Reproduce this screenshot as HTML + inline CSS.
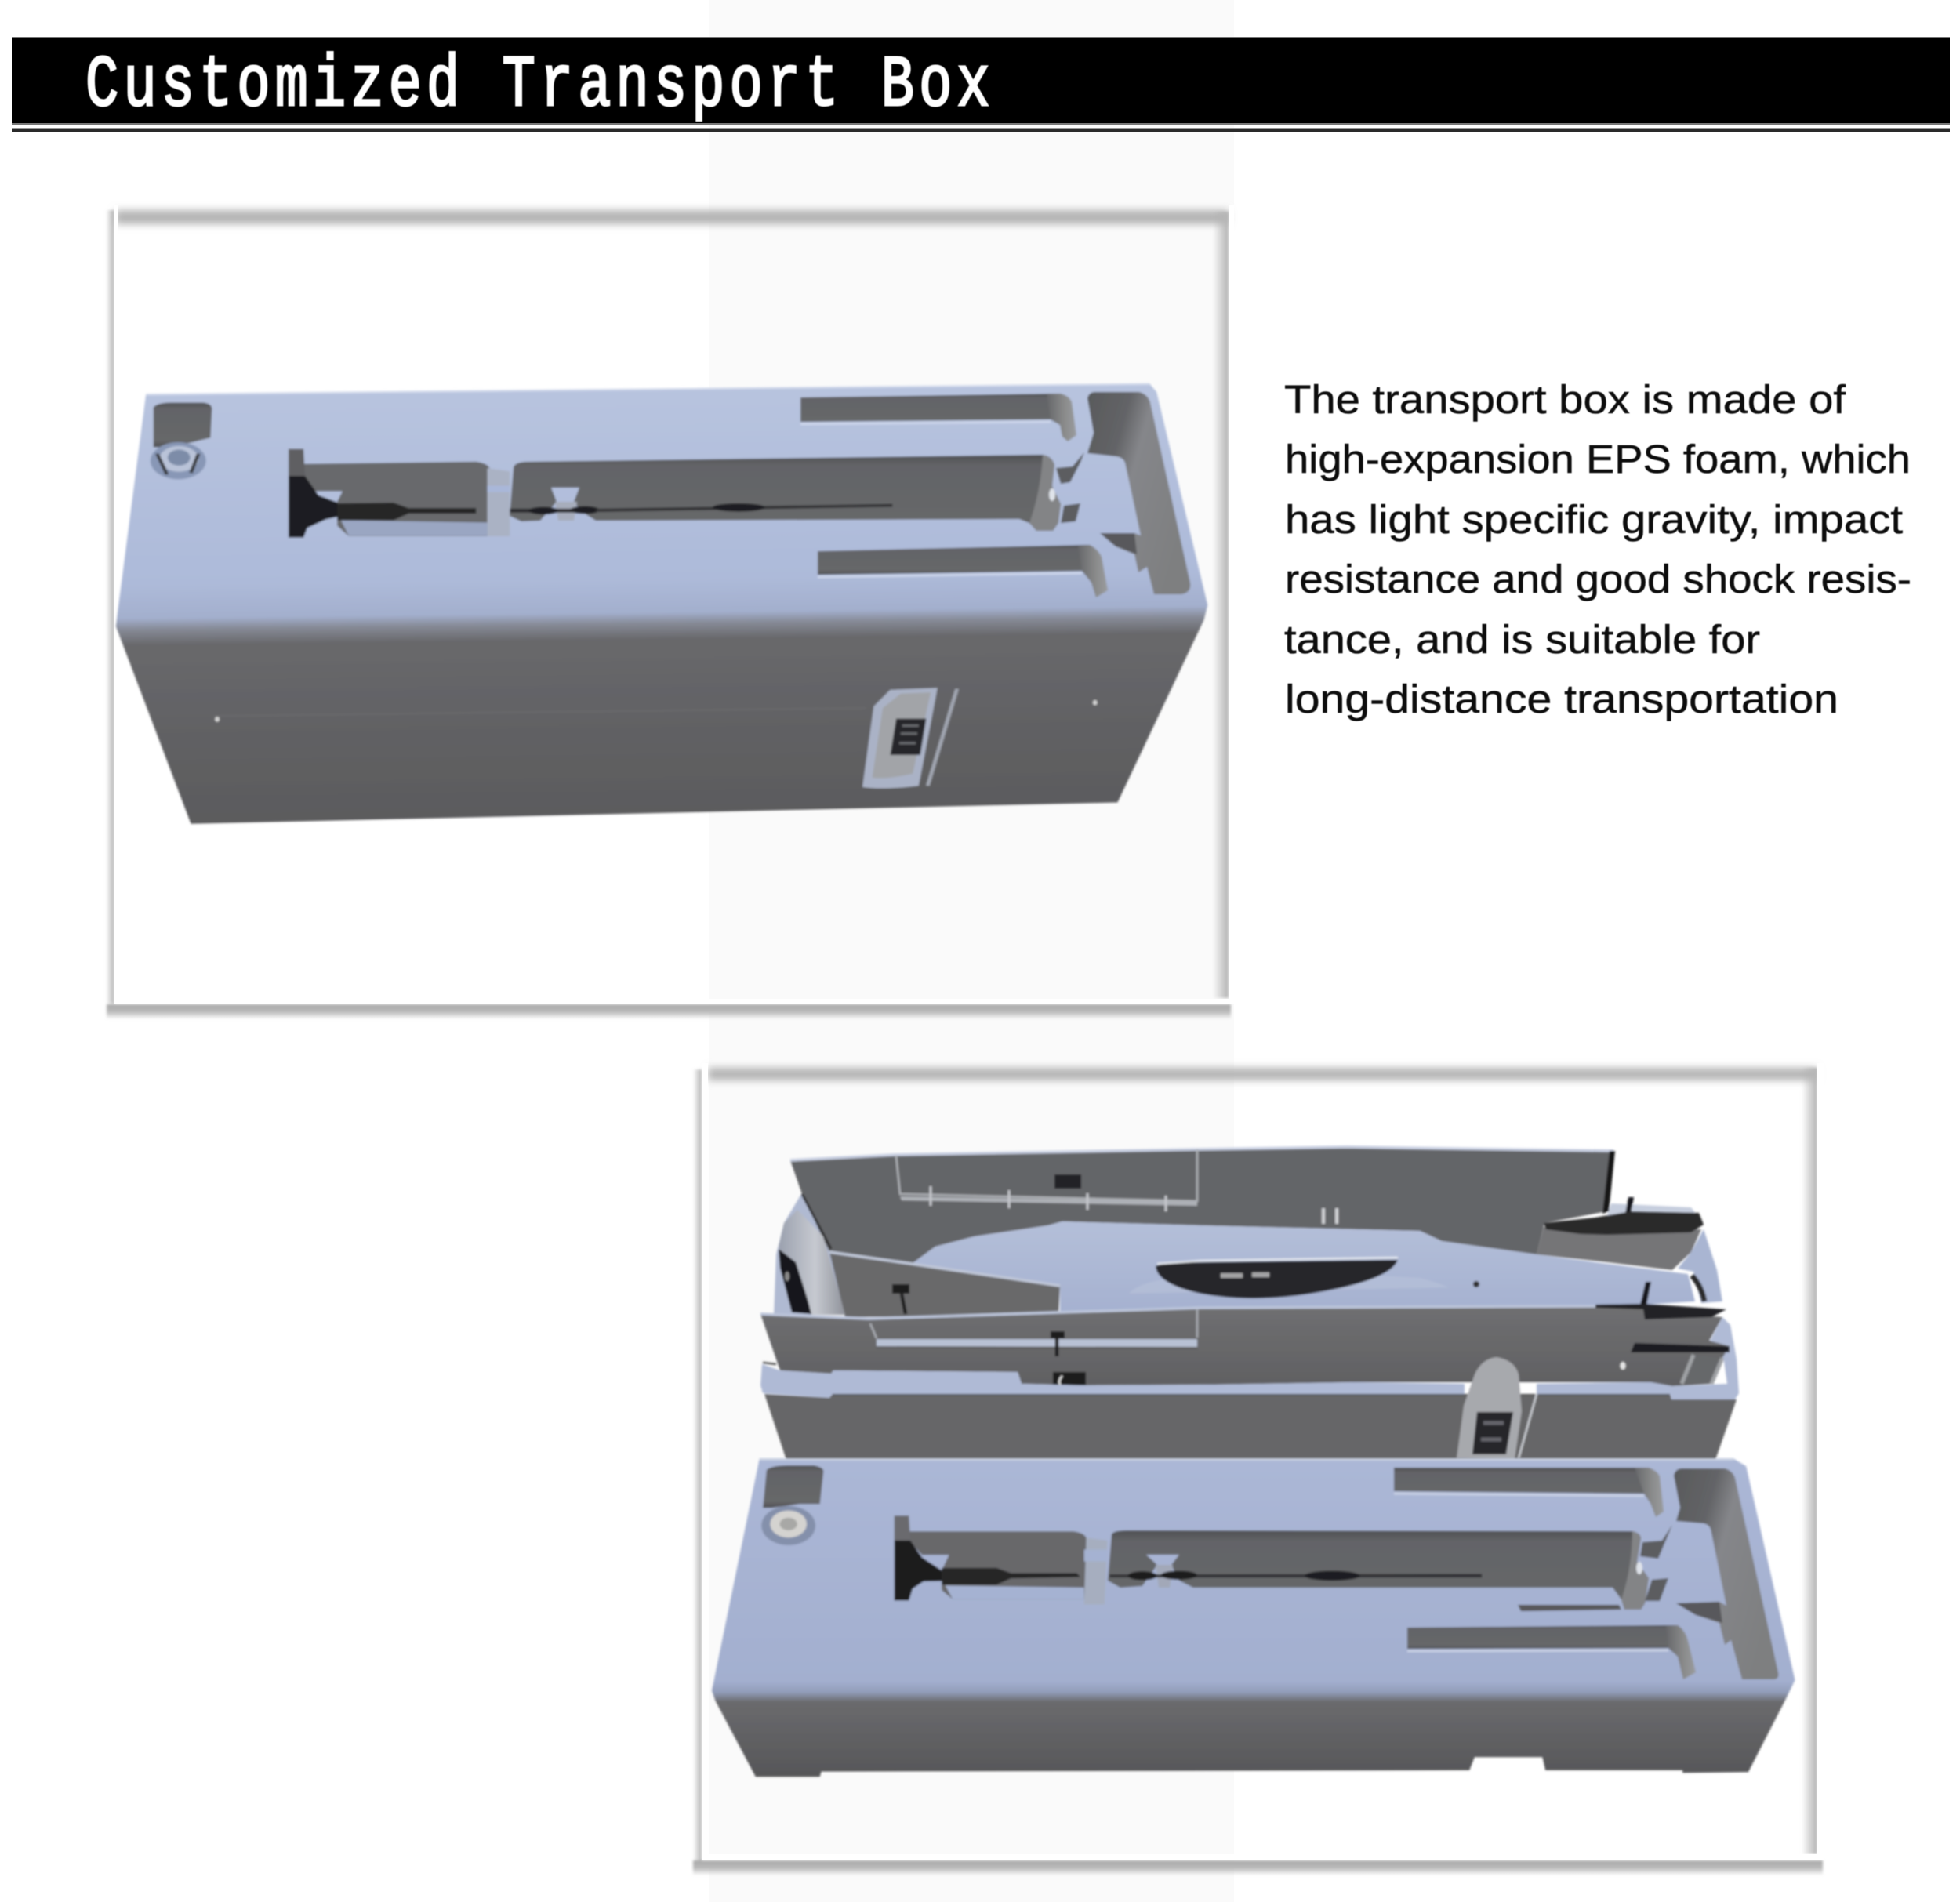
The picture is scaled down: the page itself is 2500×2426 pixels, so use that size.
<!DOCTYPE html>
<html><head><meta charset="utf-8"><title>Customized Transport Box</title>
<style>html,body{margin:0;padding:0;background:#fff}svg{display:block}</style></head>
<body>
<svg xmlns="http://www.w3.org/2000/svg" width="2500" height="2426" viewBox="0 0 2500 2426">
<defs>
<filter id="b3" x="-5%" y="-5%" width="110%" height="110%"><feGaussianBlur stdDeviation="1.5"/></filter>
<filter id="b5" x="-2%" y="-200%" width="104%" height="500%"><feGaussianBlur stdDeviation="5"/></filter>
<filter id="soft" x="-2%" y="-2%" width="104%" height="104%"><feGaussianBlur stdDeviation="1.3"/></filter>
<filter id="t" x="-2%" y="-10%" width="104%" height="120%"><feGaussianBlur stdDeviation="0.6"/></filter>
<linearGradient id="g1" gradientUnits="userSpaceOnUse" x1="780" y1="100" x2="818" y2="1500">
<stop offset="0" stop-color="#b8c4df"/><stop offset=".45" stop-color="#adbad9"/><stop offset=".525" stop-color="#a3afcd"/><stop offset=".55" stop-color="#868a96"/><stop offset=".585" stop-color="#68686b"/><stop offset="1" stop-color="#5a5a5c"/>
</linearGradient>
<linearGradient id="g3" gradientUnits="userSpaceOnUse" x1="0" y1="60" x2="0" y2="1280">
<stop offset="0" stop-color="#abb7d6"/><stop offset=".7" stop-color="#a3afcf"/><stop offset=".735" stop-color="#919cb8"/><stop offset=".765" stop-color="#6a6a6d"/><stop offset="1" stop-color="#565658"/>
</linearGradient>
<linearGradient id="blue" x1="0" y1="0" x2="0" y2="1"><stop offset="0" stop-color="#b4bfd9"/><stop offset="1" stop-color="#a5b1d0"/></linearGradient>
<linearGradient id="dk" x1="0" y1="0" x2="0" y2="1"><stop offset="0" stop-color="#4f5053"/><stop offset=".14" stop-color="#636467"/><stop offset=".85" stop-color="#666769"/><stop offset="1" stop-color="#4e4e51"/></linearGradient>
<linearGradient id="wall" x1="0" y1="0" x2="1" y2="0"><stop offset="0" stop-color="#66676a"/><stop offset=".6" stop-color="#8a8b8b"/><stop offset="1" stop-color="#9a9c9e"/></linearGradient>
<linearGradient id="rp" x1="0" y1="0" x2="1" y2=".55"><stop offset="0" stop-color="#58595b"/><stop offset=".33" stop-color="#636467"/><stop offset=".5" stop-color="#85868a"/><stop offset="1" stop-color="#7e7f80"/></linearGradient>
<linearGradient id="fw" x1="0" y1="0" x2="0" y2="1"><stop offset="0" stop-color="#6f6f71"/><stop offset="1" stop-color="#606062"/></linearGradient>
<linearGradient id="col" x1="0" y1="0" x2="1" y2="0"><stop offset="0" stop-color="#9aa0ae"/><stop offset=".55" stop-color="#c6c9d0"/><stop offset="1" stop-color="#8f929a"/></linearGradient>
<linearGradient id="fL" x1="0" y1="0" x2="1" y2="0"><stop offset="0" stop-color="#b2b2b2" stop-opacity="0"/><stop offset="1" stop-color="#b2b2b2"/></linearGradient>
<linearGradient id="fB" x1="0" y1="0" x2="0" y2="1"><stop offset="0" stop-color="#a8a8a8"/><stop offset=".5" stop-color="#bbb"/><stop offset="1" stop-color="#bbb" stop-opacity="0"/></linearGradient>
</defs>

<rect width="2500" height="2426" fill="#fff"/>
<rect x="904" y="0" width="670" height="2426" fill="#fafafa"/>

<!-- header -->
<rect x="15" y="47" width="2472" height="112" fill="#777"/>
<rect x="15" y="49" width="2472" height="108" fill="#000"/>
<rect x="15" y="163" width="2472" height="6" fill="#999"/>
<rect x="15" y="164" width="2472" height="4" fill="#2a2a2a"/>
<g filter="url(#t)"><text transform="translate(109,134) scale(.88,1.16)" font-family="'Liberation Mono',monospace" font-weight="400" font-size="80" fill="#fff" stroke="#fff" stroke-width="2.6" textLength="1311" lengthAdjust="spacing">Customized Transport Box</text></g>

<!-- frame 1 -->
<rect x="147" y="268" width="1420" height="18" fill="#b4b4b4" filter="url(#b5)"/>
<g filter="url(#b3)">
<rect x="135" y="268" width="11" height="1012" fill="url(#fL)"/>
<rect x="1547" y="270" width="20" height="1003" fill="url(#fL)"/>
<rect x="136" y="1281" width="1434" height="19" fill="url(#fB)"/>
</g>
<rect x="145" y="1274" width="1429" height="7" fill="#fff"/>
<rect x="1567" y="262" width="7" height="1019" fill="#fff"/>
<rect x="146" y="262" width="4" height="1019" fill="#fff"/>

<!-- frame 2 -->
<rect x="903" y="1362" width="1415" height="16" fill="#b4b4b4" filter="url(#b5)"/>
<g filter="url(#b3)">
<rect x="884" y="1364" width="11" height="1010" fill="url(#fL)"/>
<rect x="2298" y="1362" width="20" height="1003" fill="url(#fL)"/>
<rect x="884" y="2373" width="1441" height="19" fill="url(#fB)"/>
</g>
<rect x="895" y="1356" width="8" height="1016" fill="#fff"/>
<rect x="895" y="2365" width="1431" height="8" fill="#fff"/>
<rect x="2318" y="1356" width="8" height="1017" fill="#fff"/>

<!-- box 1 -->
<g filter="url(#soft)">
<g transform="translate(100,440) scale(0.957,0.408)">
<path d="M90,155 L1428,122 L1437,147 L1505,813 L1500,860 L1385,1430 L150,1497 L50,880 L52,840 Z" fill="url(#g1)"/>
<path d="M90,155 L1428,122" stroke="#d4dbec" stroke-width="6" fill="none"/>
<path d="M100,195 Q105,180 125,180 L165,180 Q178,182 178,200 L176,290 L150,305 L112,320 L100,320 Z" fill="url(#dk)"/>
<ellipse cx="133" cy="362" rx="37" ry="58" fill="#8897b6"/>
<ellipse cx="134" cy="356" rx="26" ry="40" fill="#b9c3d8"/>
<ellipse cx="134" cy="352" rx="15" ry="25" fill="#7d8ca8"/>
<path d="M105,340 L118,405 M160,340 L150,400" stroke="#3b3d42" stroke-width="5" fill="none"/>
<path d="M300,372 L530,365 Q545,370 548,385 L548,597 L360,597 L345,565 L345,490 L352,457 L315,457 L300,440 Z" fill="#68696c"/>
<path d="M350,548 L545,555 L545,596 L360,596 Z" fill="#9aa6c2"/>
<path d="M280,325 L300,325 L302,415 L280,420 Z" fill="#5e5e62"/>
<path d="M280,410 L302,410 L320,470 L345,492 L350,535 L330,545 L305,572 L300,602 L280,602 Z" fill="#1e1e20"/>
<path d="M345,495 L420,493 L440,510 L530,510 L530,527 L440,527 L420,548 L345,548 Z" fill="#252527"/>
<path d="M545,385 L575,395 L575,598 L545,598 Z" fill="#aab2c4"/>
<rect x="545" y="440" width="30" height="20" fill="#a9b7d9"/>
</g>
<!-- main pocket -->
<path d="M655,596 Q657,589 674,589 L1330,580 Q1342,582 1345,593 L1342,620 L1353,643 L1350,667 L1343,677 L1322,677 L1313,667 L1300,662 L760,664 L741,652 L732,640 L739,622 L703,622 L710,640 L689,664 L665,665 L650,658 Z" fill="url(#dk)"/>
<path d="M1330,580 Q1342,582 1345,593 L1342,620 L1353,643 L1350,667 L1343,677 L1322,677 L1313,667 Q1328,625 1330,580 Z" fill="#838486"/>
<ellipse cx="1342" cy="631" rx="4" ry="8" fill="#dfe3ea"/>
<path d="M1347,597 L1368,595 L1383,577 L1378,590 L1365,615 L1353,617 Z" fill="#5c5d60"/>
<path d="M1357,645 L1378,642 L1372,665 L1353,667 Z" fill="#5c5d60"/>
<path d="M708,640 L736,640 L732,664 L712,664 Z" fill="#a7adbc"/>
<g transform="translate(100,440) scale(0.957,0.408)">
<path d="M575,512 L690,512 L690,524 L575,524 Z" fill="#2c2c2e"/>
<ellipse cx="620" cy="518" rx="20" ry="12" fill="#1f1f21"/><ellipse cx="675" cy="516" rx="20" ry="12" fill="#1f1f21"/>
<path d="M690,512 L1085,497 L1085,506 L690,522 Z" fill="#333335"/>
<ellipse cx="880" cy="508" rx="35" ry="13" fill="#1e1e20"/>
</g>
<!-- top pocket -->
<path d="M1021,507 L1353,502 L1352,542 L1340,535 L1021,538 Z" fill="url(#dk)"/>
<path d="M1335,502 L1353,502 Q1364,505 1367,513 L1373,555 L1362,563 L1355,557 L1352,542 L1340,535 Z" fill="url(#wall)"/>
<path d="M1021,541 L1340,538" stroke="#ccd5ea" stroke-width="3"/>
<!-- lower pocket -->
<path d="M1043,703 L1390,695 L1385,728 L1043,733 Z" fill="url(#dk)"/>
<path d="M1375,696 L1390,695 Q1400,700 1405,710 L1413,753 L1398,762 L1392,743 L1380,728 Z" fill="url(#wall)"/>
<path d="M1043,736 L1380,731" stroke="#ccd5ea" stroke-width="3"/>
<!-- right pocket -->
<path d="M1387,508 Q1389,500 1397,500 L1453,500 Q1464,503 1467,513 L1518,743 Q1520,756 1507,758 L1472,758 L1463,723 L1452,730 L1447,707 L1423,697 L1403,680 L1447,680 L1455,683 L1435,590 Q1432,583 1423,582 L1387,578 L1395,552 Z" fill="url(#rp)"/>
<path d="M1403,680 L1447,680 L1450,707 L1423,697 Z" fill="#58595c"/>
<g transform="translate(100,440) scale(0.957,0.408)">
<path d="M1082,1078 L1145,1072 L1120,1378 Q1070,1392 1045,1382 L1060,1130 Z" fill="#aab2c6"/>
<path d="M1096,1090 L1136,1086 L1112,1340 Q1075,1360 1058,1352 L1072,1135 Z" fill="#a2a4a8"/>
<path d="M1090,1168 L1130,1168 L1122,1282 L1082,1282 Z" fill="#262729"/>
<path d="M1098,1190 L1120,1190 M1096,1215 L1118,1215 M1094,1245 L1116,1245" stroke="#6b6c70" stroke-width="7"/>
<path d="M1171,1075 L1132,1378" stroke="#a0a5b0" stroke-width="5"/>
<path d="M180,1160 L1050,1135" stroke="#6d6d70" stroke-width="3"/>
<ellipse cx="185" cy="1170" rx="3" ry="8" fill="#d0d0d0"/><ellipse cx="1355" cy="1118" rx="3" ry="8" fill="#d0d0d0"/>
</g>
</g>

<!-- text -->
<g font-family="'Liberation Sans',sans-serif" font-size="51" fill="#111" stroke="#111" stroke-width=".5" filter="url(#t)">
<text x="1638" y="527" textLength="716" lengthAdjust="spacingAndGlyphs">The transport box is made of</text>
<text x="1639" y="603" textLength="798" lengthAdjust="spacingAndGlyphs">high-expansion EPS foam, which</text>
<text x="1639" y="680" textLength="788" lengthAdjust="spacingAndGlyphs">has light specific gravity, impact</text>
<text x="1639" y="756" textLength="799" lengthAdjust="spacingAndGlyphs">resistance and good shock resis-</text>
<text x="1638" y="833" textLength="607" lengthAdjust="spacingAndGlyphs">tance, and is suitable for</text>
<text x="1639" y="909" textLength="706" lengthAdjust="spacingAndGlyphs">long-distance transportation</text>
</g>

<!-- box 2 rear half -->
<g filter="url(#soft)">
<path d="M1022,1523 L1000,1560 L990,1600 L987,1677 L1078,1677 L1060,1593 Z" fill="#b0bad2"/>
<path d="M2173,1568 L2190,1620 L2197,1660 L2170,1662 L2160,1622 L2140,1618 L2157,1597 Z" fill="#a9b5d2"/>
<path d="M2197,1680 L2207,1690 L2215,1733 L2198,1732 L2180,1712 Z" fill="#b0bbd6"/>
<path d="M2055,1535 L2157,1540 L2165,1550 L2050,1550 Z" fill="#c6cede"/>
<path d="M1008,1480 L1141,1473 L1532,1466 L1718,1463 L2058,1468 L2050,1545 L1970,1560 L1960,1600 L1839,1583 L1811,1570 L1532,1563 L1355,1558 L1337,1563 L1243,1577 L1193,1590 L1163,1612 L1058,1597 L1023,1523 Z" fill="#646568"/>
<path d="M1008,1480 L1141,1473 L1532,1466 L1718,1463 L2058,1468" stroke="#c6cde0" stroke-width="3.5" fill="none"/>
<path d="M1023,1523 L1060,1593" stroke="#2a2a2c" stroke-width="3"/>
<path d="M1143,1474 L1148,1523 L1527,1532 L1527,1466" stroke="#aeb1b6" stroke-width="2.5" fill="none"/>
<path d="M1148,1526 L1527,1532 L1527,1538 L1150,1531 Z" fill="#adb0b6"/>
<rect x="1345" y="1498" width="34" height="18" fill="#222326"/>
<path d="M1187,1513 V1538 M1287,1518 V1541 M1387,1522 V1543 M1487,1525 V1545" stroke="#c4c6cb" stroke-width="3"/>
<path d="M1688,1541 V1561 M1705,1541 V1561" stroke="#d0d2d6" stroke-width="4"/>
<path d="M1163,1612 L1193,1590 L1243,1577 L1337,1563 L1355,1558 L1532,1563 L1811,1570 L1839,1583 L1960,1600 L2050,1612 L2153,1625 L2162,1660 L2050,1667 L1532,1670 L1352,1674 L1352,1640 Z" fill="url(#blue)"/>
<path d="M1058,1597 L1163,1612 L1352,1640 L1350,1677 L1078,1680 Z" fill="#69696b"/>
<path d="M1058,1597 L1163,1612 L1352,1640" stroke="#c0c7d8" stroke-width="3.5" fill="none"/>
<rect x="1138" y="1638" width="22" height="12" fill="#1c1c1e"/>
<path d="M1150,1650 L1155,1676" stroke="#1c1c1e" stroke-width="4.5"/>
<path d="M1017,1543 L1050,1577 L1078,1677 L1035,1677 L993,1590 L1000,1560 Z" fill="url(#col)"/>
<path d="M993,1593 L1015,1610 L1030,1657 L1035,1676 L1010,1674 L995,1617 Z" fill="#17171a"/>
<ellipse cx="1004" cy="1628" rx="3" ry="6" fill="#888"/>
<path d="M1811,1630 Q1830,1635 1848,1642 L1440,1650 Q1470,1610 1811,1630 Z" fill="#c2cbdf" opacity=".35"/>
<path d="M1474,1615 Q1484,1610 1532,1610 L1783,1607 Q1774,1630 1699,1645 Q1606,1664 1532,1650 Q1476,1638 1474,1615 Z" fill="#28282b"/>
<path d="M1476,1612 L1532,1608 L1783,1604" stroke="#e4e8ef" stroke-width="2.5" fill="none"/>
<rect x="1557" y="1624" width="28" height="6" fill="#a4a4a6"/><rect x="1597" y="1623" width="22" height="6" fill="#a4a4a6"/>
<ellipse cx="1883" cy="1638" rx="4" ry="4" fill="#333"/>
<path d="M1960,1600 L1969,1565 L2170,1568 L2157,1597 L2133,1620 L2050,1610 Z" fill="#757577"/>
<path d="M2053,1468 L2060,1468 L2052,1545 L2044,1548 Z" fill="#141416"/>
<path d="M2077,1527 L2084,1527 L2080,1548 L2073,1548 Z" fill="#18181a"/>
<path d="M1969,1560 L2034,1553 L2081,1545 L2167,1547 L2173,1562 L2157,1572 L2050,1575 L2016,1574 L1972,1568 Z" fill="#29292c"/>
<path d="M2158,1627 Q2170,1640 2174,1660" stroke="#2a2a2c" stroke-width="7" fill="none"/>
<path d="M2099,1635 L2106,1635 L2100,1665 L2092,1665 Z" fill="#18181a"/>
<path d="M970,1676 L1108,1682 L1380,1673 L1532,1668 L2035,1666 L2098,1670 L2197,1680 L2180,1710 L2206,1717 L2198,1730 L2183,1765 L2133,1768 L2105,1763 L1727,1763 L1550,1766 L1380,1767 L1303,1765 L1298,1750 L1063,1748 L1060,1752 L995,1748 Z" fill="url(#fw)"/>
<path d="M970,1676 L1108,1682 L1380,1673 L1532,1668 L2035,1666" stroke="#bcc5da" stroke-width="3.5" fill="none"/>
<path d="M1110,1688 L1118,1707 M1527,1670 V1706" stroke="#a9acb2" stroke-width="2.5" fill="none"/>
<path d="M1118,1708 L1527,1708 L1527,1718 L1118,1717 Z" fill="#b8c1d4"/>
<path d="M1118,1719 L1527,1720" stroke="#58585a" stroke-width="1.5"/>
<rect x="1340" y="1698" width="18" height="9" fill="#1c1c1e"/>
<path d="M1348,1706 V1730" stroke="#1c1c1e" stroke-width="4.5"/>
<rect x="1343" y="1750" width="42" height="17" fill="#1c1c1e"/><path d="M1355,1755 Q1348,1762 1354,1769" stroke="#ddd" stroke-width="2.5" fill="none"/>
<path d="M2035,1664 L2097,1663 L2202,1670 L2183,1680 L2098,1683 L2096,1670 L2035,1668 Z" fill="#232326"/>
<path d="M2085,1713 L2206,1717 L2206,1725 L2080,1725 Z" fill="#1d1d20"/>
<ellipse cx="2070" cy="1742" rx="3.5" ry="5" fill="#e4e4e4"/>
<path d="M2160,1728 L2197,1732 L2183,1765 L2145,1765 Z" fill="#66676a"/>
<path d="M2160,1728 L2145,1765 M2197,1732 L2183,1765" stroke="#9fa1a4" stroke-width="5"/>
<path d="M970,1767 L972,1740 L995,1748 L1060,1752 L1063,1748 L1298,1750 L1303,1765 L1380,1767 L1550,1766 L1727,1763 L1868,1765 L1868,1778 L1062,1778 L1058,1783 L973,1777 Z" fill="#afbad5"/>
<path d="M1960,1765 L2105,1763 L2133,1768 L2203,1765 L2198,1730 L2215,1733 L2218,1777 L2213,1785 L2132,1785 L2130,1778 L1960,1778 Z" fill="#afbad5"/>
<path d="M973,1738 L990,1740" stroke="#555" stroke-width="2.5"/>
<path d="M975,1778 L1058,1783 L1062,1778 L2130,1778 L2132,1785 L2215,1785 L2188,1862 L1003,1862 Z" fill="#666667"/>
<path d="M1062,1779 L2130,1779" stroke="#4c4c4e" stroke-width="2"/>
<path d="M1909,1731 Q1932,1735 1937,1753 L1941,1800 L1932,1861 L1858,1860 L1867,1793 L1881,1753 Q1890,1733 1909,1731 Z" fill="#a7a9ad"/>
<path d="M1884,1801 L1930,1801 L1921,1855 L1878,1855 Z" fill="#26272a"/>
<path d="M1892,1815 L1918,1815 M1889,1836 L1915,1836" stroke="#63646a" stroke-width="5"/>
<path d="M1960,1778 L1937,1860" stroke="#c9ccd2" stroke-width="2.5"/>
</g>

<!-- box 3 front half -->
<g filter="url(#soft)">
<g transform="translate(880,1840) scale(0.931,0.333)">
<path d="M95,65 L130,62 L1430,62 L1447,90 L1514,910 L1500,990 L1450,1262 L1360,1265 L1360,1255 L1172,1255 L1168,1205 L1075,1205 L1068,1255 L180,1260 L178,1280 L90,1280 L35,990 L30,950 Z" fill="url(#g3)"/>
<path d="M95,65 L1430,65" stroke="#c4cde0" stroke-width="9" fill="none"/>
<path d="M105,105 Q112,88 135,88 L170,88 Q183,95 183,110 L178,235 L150,235 L112,250 L100,250 Z" fill="url(#dk)"/>
<ellipse cx="135" cy="318" rx="37" ry="75" fill="#8490ab"/>
<ellipse cx="135" cy="312" rx="25" ry="52" fill="#d4d3d0"/>
<ellipse cx="135" cy="312" rx="12" ry="24" fill="#a8a8a6"/>
<path d="M300,340 L525,340 Q540,345 543,365 L545,450 L540,600 L360,600 L345,565 L345,490 L355,430 L318,430 L300,375 Z" fill="#67686b"/>
<path d="M350,548 L540,555 L540,600 L360,600 Z" fill="#a5b2d2"/>
<path d="M280,280 L300,280 L302,375 L280,380 Z" fill="#6a6a6e"/>
<path d="M280,375 L302,375 L318,440 L345,490 L350,530 L320,532 L305,560 L300,605 L280,605 Z" fill="#1c1c1e"/>
<path d="M345,480 L420,480 L440,500 L530,500 L535,515 L440,520 L420,545 L345,545 Z" fill="#252527"/>
<path d="M543,365 L572,375 L568,620 L540,620 Z" fill="#a6aebf"/>
<rect x="540" y="410" width="32" height="45" fill="#a5b2d2"/>
</g>
<path d="M1418,1957 Q1420,1952 1439,1952 L2082,1953 Q2092,1955 2093,1962 L2088,1992 L2103,2013 L2098,2045 L2093,2053 L2072,2053 L2068,2040 L2057,2025 L1522,2025 L1504,2016 L1494,1996 L1504,1983 L1462,1983 L1476,1996 L1457,2023 L1429,2025 L1413,2016 Z" fill="url(#dk)"/>
<path d="M2082,1953 Q2092,1955 2093,1962 L2088,1992 L2103,2013 L2098,2045 L2093,2053 L2072,2053 L2068,2040 Q2082,2000 2082,1953 Z" fill="#838486"/>
<ellipse cx="2091" cy="2000" rx="4" ry="8" fill="#dfe3ea"/>
<path d="M2095,1967 L2120,1965 L2133,1945 L2115,1988 L2092,1985 Z" fill="#5c5d60"/>
<path d="M2107,2015 L2128,2013 L2117,2042 L2098,2042 Z" fill="#5c5d60"/>
<path d="M1474,1996 L1496,1996 L1492,2025 L1478,2025 Z" fill="#a2a8b8"/>
<g transform="translate(880,1840) scale(0.931,0.333)">
<path d="M575,505 L1085,503 L1085,517 L575,517 Z" fill="#333336"/>
<ellipse cx="620" cy="510" rx="20" ry="17" fill="#1c1c1e"/><ellipse cx="670" cy="508" rx="25" ry="17" fill="#1c1c1e"/>
<ellipse cx="880" cy="510" rx="38" ry="19" fill="#1e1e20"/>
</g>
<path d="M1936,2047 L2065,2047 L2068,2053 L1940,2055 Z" fill="#58595c"/>
<path d="M1778,1872 L2103,1872 L2105,1917 L2097,1905 L1778,1902 Z" fill="url(#dk)"/>
<path d="M2085,1872 L2103,1872 Q2114,1876 2117,1883 L2122,1928 L2112,1935 L2105,1917 L2097,1905 Z" fill="url(#wall)"/>
<path d="M1778,1905 L2097,1908" stroke="#c8d0e4" stroke-width="3"/>
<path d="M1795,2076 L2140,2073 L2130,2102 L1795,2103 Z" fill="url(#dk)"/>
<path d="M2125,2074 L2140,2073 Q2150,2080 2153,2093 L2163,2133 L2147,2142 L2140,2113 L2128,2102 Z" fill="url(#wall)"/>
<path d="M1795,2106 L2128,2105" stroke="#c8d0e4" stroke-width="3"/>
<path d="M2135,1882 Q2137,1873 2146,1873 L2200,1873 Q2210,1876 2213,1885 L2268,2133 Q2270,2141 2263,2142 L2222,2142 L2208,2092 L2200,2098 L2193,2070 L2163,2060 L2138,2045 L2193,2043 L2202,2048 L2182,1950 Q2179,1944 2173,1943 L2138,1940 L2143,1923 Z" fill="url(#rp)"/>
<path d="M2138,2045 L2193,2043 L2197,2070 L2163,2060 Z" fill="#58595c"/>
</g>
</svg>
</body></html>
